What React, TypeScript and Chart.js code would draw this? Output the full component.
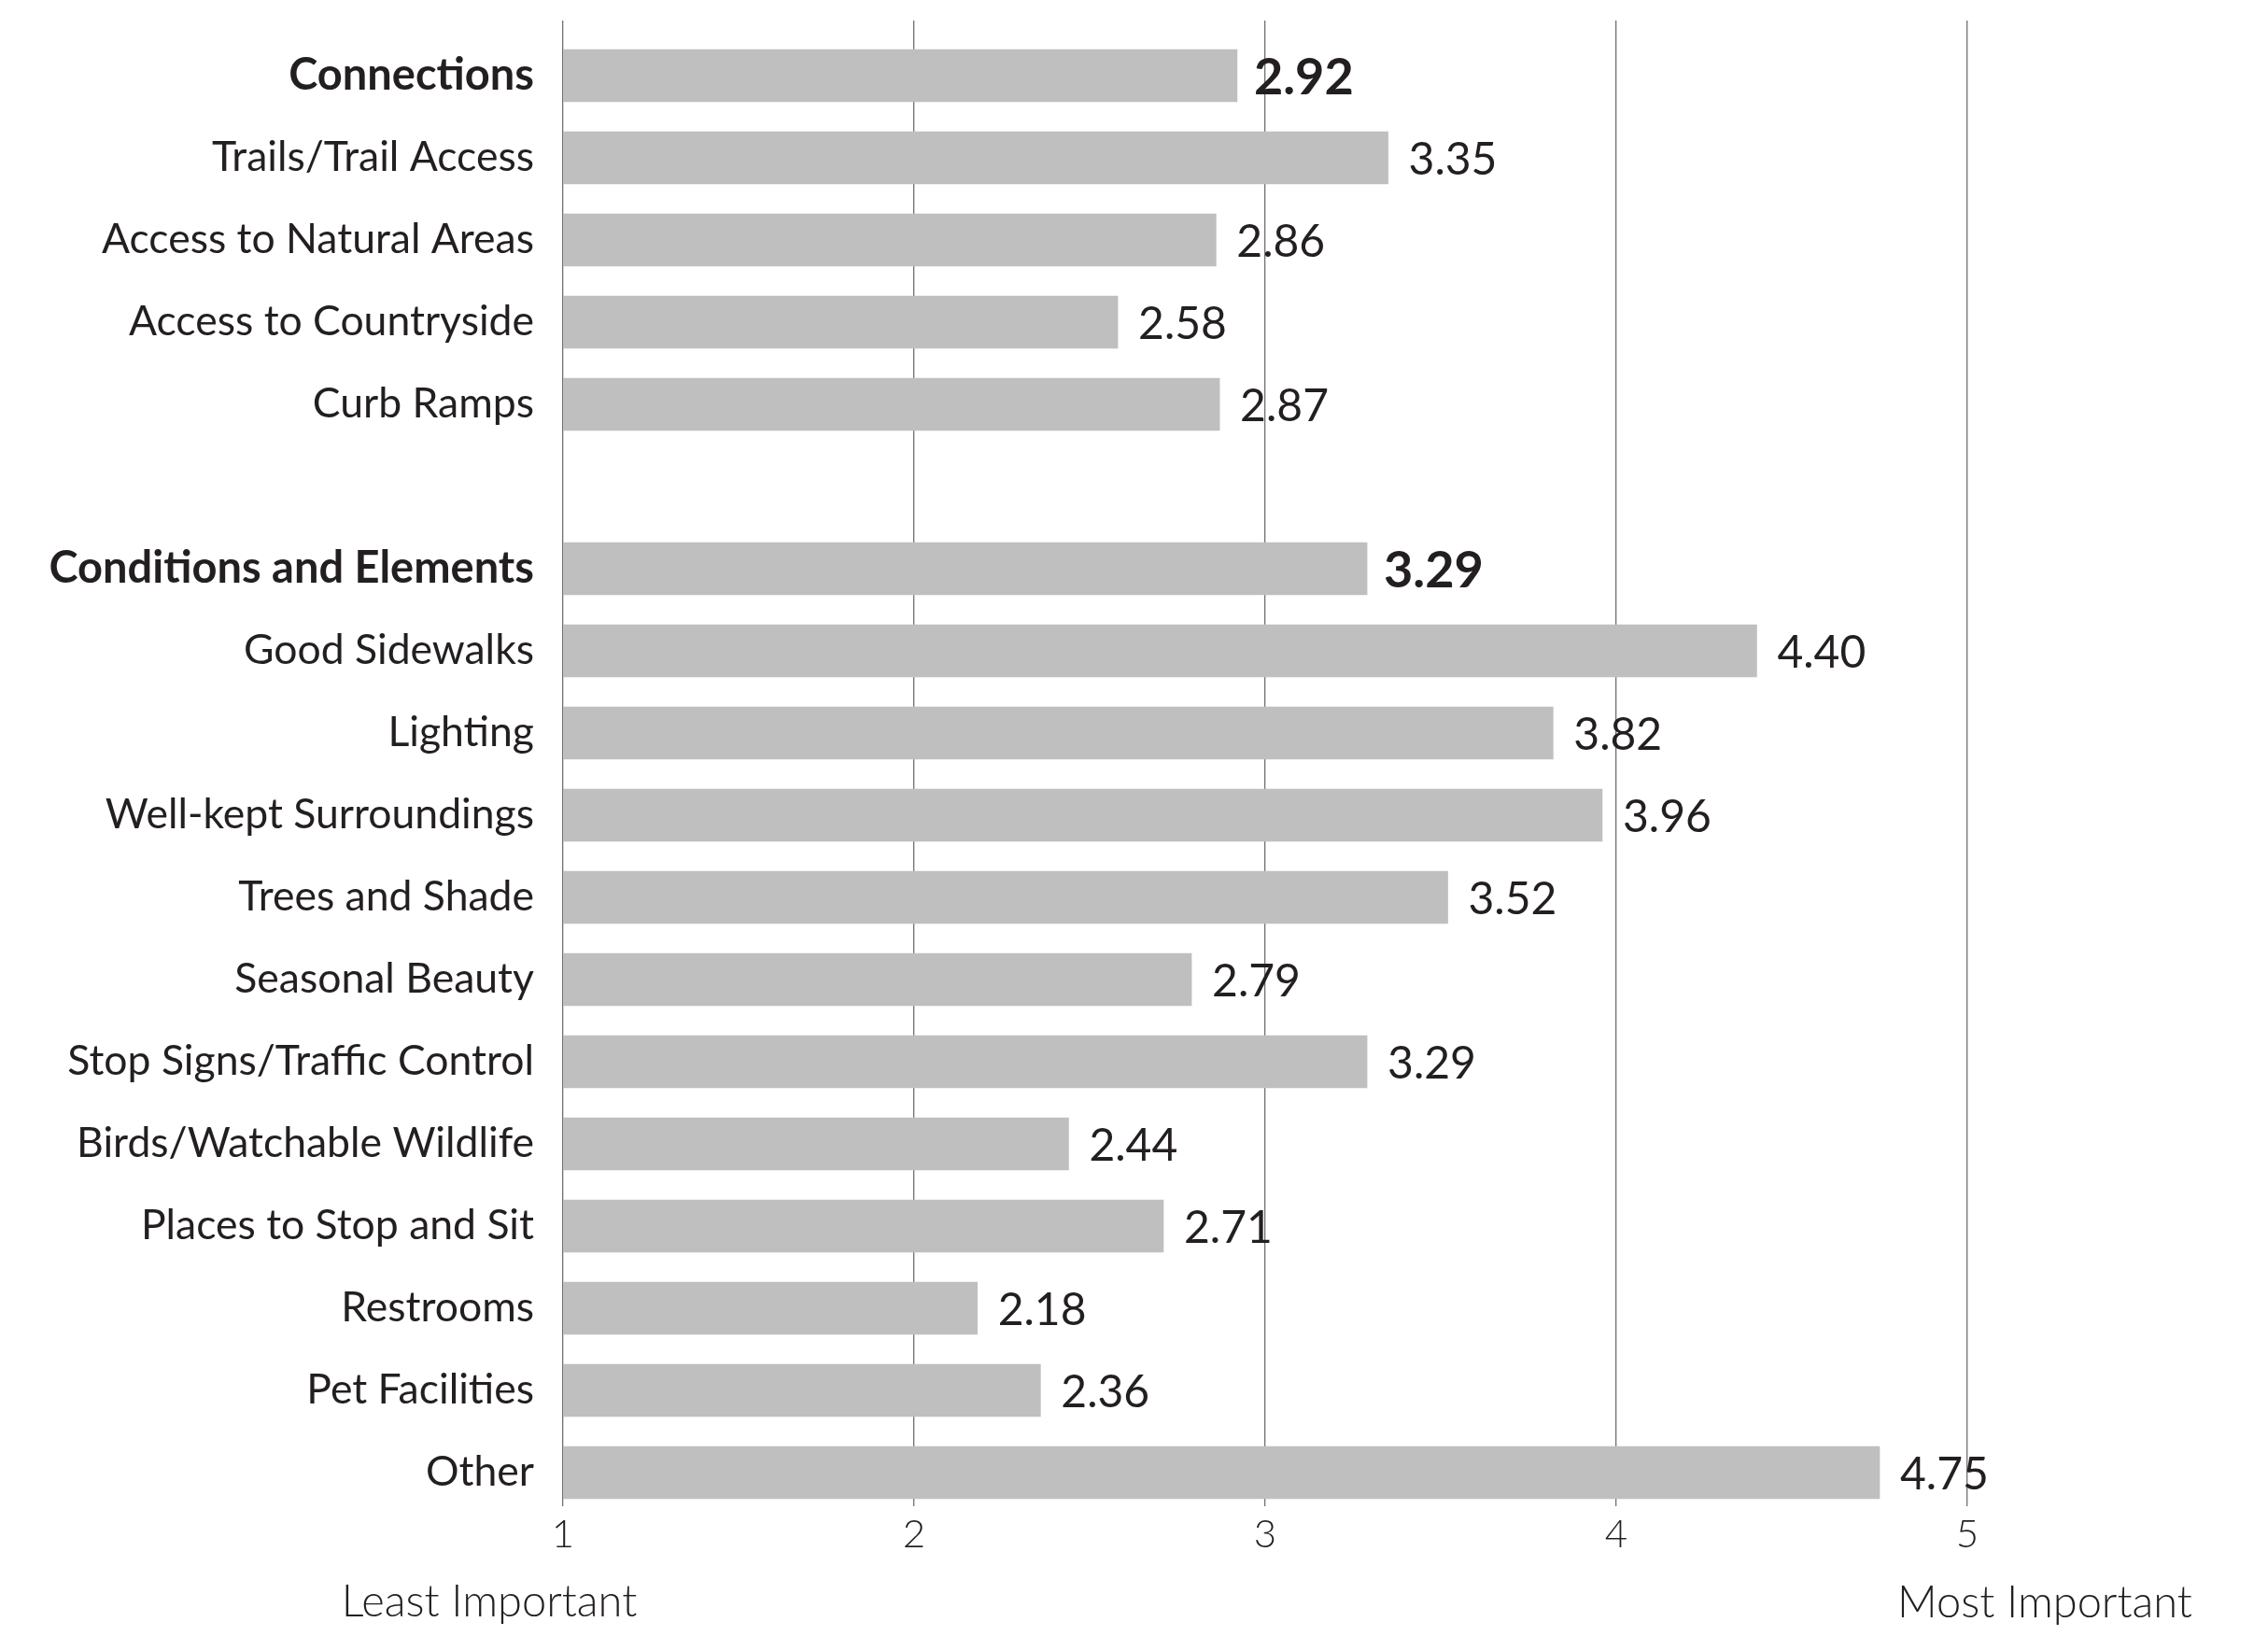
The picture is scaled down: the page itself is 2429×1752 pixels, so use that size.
import React, { useEffect, useRef } from "react";
import { Chart, registerables } from "chart.js";

Chart.register(...registerables);

const categories: string[] = [
  "Connections",
  "Trails/Trail Access",
  "Access to Natural Areas",
  "Access to Countryside",
  "Curb Ramps",
  "",
  "Conditions and Elements",
  "Good Sidewalks",
  "Lighting",
  "Well-kept Surroundings",
  "Trees and Shade",
  "Seasonal Beauty",
  "Stop Signs/Traffic Control",
  "Birds/Watchable Wildlife",
  "Places to Stop and Sit",
  "Restrooms",
  "Pet Facilities",
  "Other",
];

const scores: (number | null)[] = [
  2.92, 3.35, 2.86, 2.58, 2.87, null, 3.29, 4.4, 3.82, 3.96, 3.52, 2.79, 3.29, 2.44, 2.71, 2.18, 2.36, 4.75,
];

const headers: string[] = ["Connections", "Conditions and Elements"];

const xTicks: number[] = [1, 2, 3, 4, 5];
const leastLabel = "Least Important";
const mostLabel = "Most Important";

const FONT = "Lato, 'Noto Sans', sans-serif";
const TEXT = "#231f20";

export default function App() {
  const ref = useRef<HTMLCanvasElement | null>(null);

  useEffect(() => {
    if (!ref.current) return;
    const isHeader = (i: number) => headers.includes(categories[i]);

    const labelPlugin = {
      id: "valueLabels",
      afterDatasetsDraw(chart: any) {
        const ctx = chart.ctx;
        const meta = chart.getDatasetMeta(0);
        ctx.save();
        ctx.fillStyle = TEXT;
        ctx.textBaseline = "middle";
        ctx.textAlign = "left";
        meta.data.forEach((bar: any, i: number) => {
          const v = scores[i];
          if (v == null) return;
          ctx.font = isHeader(i) ? `700 54px ${FONT}` : `400 48px ${FONT}`;
          ctx.fillText(v.toFixed(2), bar.x + (isHeader(i) ? 18 : 22), bar.y + 3);
        });
        const xs = chart.scales.x;
        ctx.font = `300 47px ${FONT}`;
        ctx.textAlign = "center";
        ctx.textBaseline = "alphabetic";
        ctx.fillText(leastLabel, xs.getPixelForValue(xTicks[0]) - 79, 1731);
        ctx.fillText(mostLabel, xs.getPixelForValue(xTicks[xTicks.length - 1]) + 83, 1732);
        ctx.restore();
      },
    };

    const chart = new Chart(ref.current, {
      type: "bar",
      data: {
        datasets: [
          {
            data: scores.map((v, i) => ({ x: v, y: i })) as any,
            backgroundColor: "#c0bfc0",
            borderWidth: 0,
            barThickness: 56,
          },
        ],
      },
      options: {
        indexAxis: "y",
        responsive: false,
        animation: false,
        devicePixelRatio: 1,
        layout: { padding: { top: 22, right: 322, left: 0, bottom: 0 } },
        plugins: { legend: { display: false }, tooltip: { enabled: false } },
        scales: {
          x: {
            type: "linear",
            min: 1,
            max: 5,
            offset: false,
            afterBuildTicks: (scale: any) => {
              scale.ticks = xTicks.map((v) => ({ value: v }));
            },
            afterFit: (scale: any) => {
              scale.height = 139;
              scale.paddingLeft = 0;
              scale.paddingRight = 0;
            },
            grid: { display: true, offset: false, color: "#707070", lineWidth: 1.3, drawTicks: false },
            border: { display: false },
            ticks: {
              padding: 5,
              color: TEXT,
              font: { family: FONT, size: 42, weight: 300 as any },
            },
          },
          y: {
            type: "linear",
            reverse: true,
            offset: false,
            min: -0.6705,
            max: 17.409,
            afterBuildTicks: (scale: any) => {
              scale.ticks = categories.map((_, i) => ({ value: i }));
            },
            afterFit: (scale: any) => {
              scale.width = 603;
              scale.paddingTop = 0;
              scale.paddingBottom = 0;
            },
            grid: { display: false, offset: false, drawTicks: false },
            border: { display: false },
            ticks: {
              autoSkip: false,
              padding: 31,
              color: TEXT,
              callback: (v: any) => categories[v as number] ?? "",
              font: (c: any) => {
                const i = c.tick ? c.tick.value : 0;
                return isHeader(i)
                  ? { family: FONT, size: 47, weight: 700 as any }
                  : { family: FONT, size: 44.5, weight: 400 as any };
              },
            },
          },
        },
      },
      plugins: [labelPlugin],
    });
    return () => chart.destroy();
  }, []);

  return (
    <div style={{ position: "absolute", left: 0, top: 0, width: 2429, height: 1752, background: "#fff" }}>
      <canvas ref={ref} width={2429} height={1752} style={{ width: 2429, height: 1752, display: "block" }} />
    </div>
  );
}
